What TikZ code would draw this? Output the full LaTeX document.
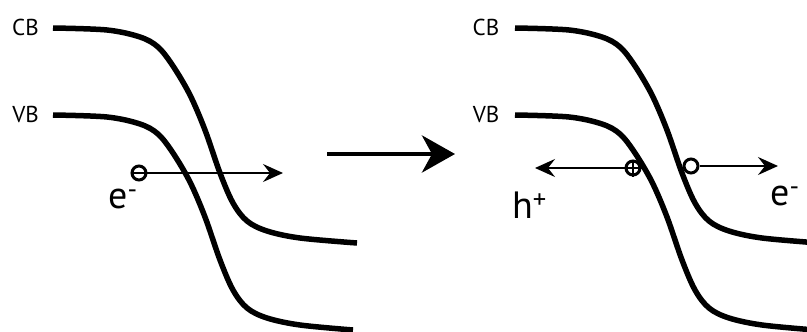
\documentclass[tikz,border=0pt]{standalone}
\usepackage{fontspec}
\setmainfont{PT Sans}
\usetikzlibrary{arrows.meta}
\begin{document}
\begin{tikzpicture}[x=1pt,y=-1pt,
  band/.style={line width=5.5pt, line cap=butt},
  bandlbl/.style={inner sep=0pt, font=\fontsize{23}{26}\selectfont},
  carrier/.style={inner sep=0pt, font=\fontsize{38}{44}\selectfont, anchor=base west},
  particle/.style={circle, draw, line width=3pt, minimum size=14pt, inner sep=0pt},
  move/.style={line width=1.6pt, -{Stealth[length=20pt,width=18pt,inset=7pt]}},
  bigarrow/.style={line width=4.5pt, -{Stealth[length=33pt,width=37pt,inset=10pt]}}]
\useasboundingbox (0,0) rectangle (807,332);
\begin{scope}
\clip (0,0) rectangle (807,332);
\foreach \dx in {0,462} {
  \begin{scope}[xshift=\dx pt]
    \draw[band] plot[smooth,tension=0.55] coordinates {(53,28) (107,30) (140,37) (158,47) (173,66) (190,95) (205,130) (220,173) (233,203) (247,221) (267,231) (300,238) (357,243)};
    \begin{scope}[yshift=-87pt]
      \draw[band] plot[smooth,tension=0.55] coordinates {(53,28) (107,30) (140,37) (158,47) (173,66) (190,95) (205,130) (220,173) (233,203) (247,221) (267,231) (300,238) (353,243)};
    \end{scope}
  \end{scope}
}
\end{scope}
% band labels
\node[bandlbl] (cbL) at (25.5,27) {CB};
\node[bandlbl] (vbL) at (25.5,114) {VB};
\node[bandlbl] (cbR) at (486,27) {CB};
\node[bandlbl] (vbR) at (486,114) {VB};
% left panel: electron
\node[particle] (eL) at (139,173) {};
\coordinate (eLtip) at (283,173);
\draw[move] (eL.west) -- (eLtip);
\node[carrier] (eLlbl) at (108,208) {e\textsuperscript{-}};
% middle arrow
\coordinate (mA) at (327,154);
\coordinate (mB) at (455,154);
\draw[bigarrow] (mA) -- (mB);
% right panel: hole
\node[particle] (hR) at (633,168) {};
\draw[line width=1.8pt] (hR.north) -- (hR.south);
\coordinate (hRtip) at (535,168);
\draw[move] (hR.east) -- (hRtip);
\node[carrier] (hRlbl) at (512,218) {h\textsuperscript{+}};
% right panel: electron
\node[particle] (eR) at (691,166) {};
\coordinate (eRtip) at (778,166);
\draw[move] (eR.east) -- (eRtip);
\node[carrier] (eRlbl) at (770,205) {e\textsuperscript{-}};
\end{tikzpicture}
\end{document}
